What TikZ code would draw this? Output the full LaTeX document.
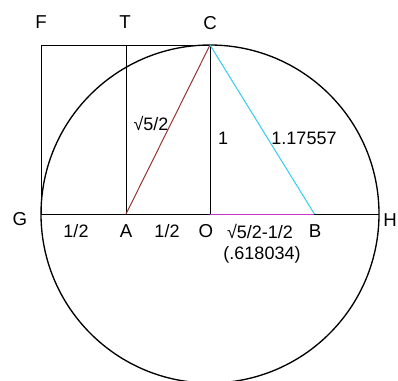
\documentclass[tikz,border=0pt]{standalone}
\usepackage{fontspec}
\setmainfont{Liberation Sans}
\usetikzlibrary{calc}
\definecolor{chordred}{RGB}{153,51,51}
\definecolor{chordcyan}{RGB}{51,204,238}
\definecolor{gapmagenta}{RGB}{204,51,204}

\begin{document}
\begin{tikzpicture}[x=0.75pt,y=-0.75pt,
    every node/.style={font=\fontsize{14}{16}\selectfont,inner sep=1pt},
    seg/.style={line width=0.75pt},
    small/.style={font=\fontsize{13.5}{16}\selectfont}]
  \clip (0,0) rectangle (398,380);
  % points
  \coordinate (O) at (210,214);
  \coordinate (G) at (41,214);
  \coordinate (H) at (379,214);
  \coordinate (A) at (126,214);
  \coordinate (B) at (314.4,214);
  \coordinate (C) at (210,45);
  \coordinate (T) at (126,45);
  \coordinate (F) at (41,45);
  \draw[line width=1pt] (O) circle[radius=169];
  \draw[seg] (G) -- (H);
  \draw[seg] (G) -- (F) -- (C) -- (O);
  \draw[seg] (A) -- (T);
  \draw[seg,chordred] (A) -- (C);
  \draw[seg,chordcyan] (C) -- (B);
  \draw[seg,gapmagenta] (O) -- (B);
  % letters
  \foreach \n/\x/\y in {F/41/22,T/125/22,C/210/23,G/20/219,H/390/220,
      A/126/231,O/206/231,B/315/231}{
    \node (lbl\n) at (\x,\y) {\n};
  }
  % lengths
  \node[small] (halfGA) at (76,231) {1/2};
  \node[small] (halfAO) at (167,231) {1/2};
  \node[small] (lenOB) at (260,231) {√5/2-1/2};
  \node[small] (numOB) at (262,255) {(.618034)};
  \node[small] (lenAC) at (151,123) {√5/2};
  \node[small] (lenOC) at (223,138) {1};
  \node[small] (lenCB) at (304,138) {1.17557};
\end{tikzpicture}
\end{document}
